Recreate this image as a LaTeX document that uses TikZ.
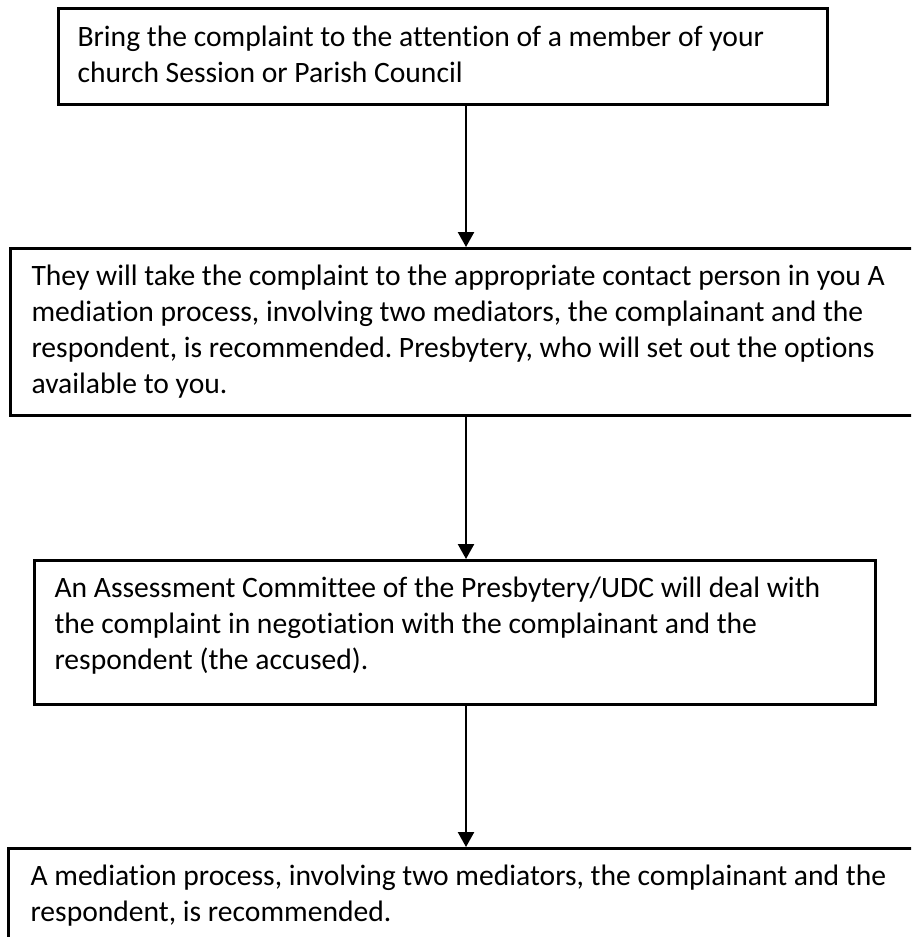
\documentclass[tikz,border=0pt]{standalone}
\usepackage{fontspec}
\setmainfont{Carlito}[Ligatures=NoCommon]
\usetikzlibrary{arrows.meta}
\frenchspacing
\begin{document}
\begin{tikzpicture}[x=0.36pt,y=-0.36pt,
  box/.style={draw=black, line width=1pt, inner sep=0pt, anchor=north west},
  txt/.style={anchor=north west, inner sep=0pt, align=left,
    font=\fontsize{10.65pt}{12.96pt}\selectfont},
  conn/.style={line width=0.75pt, -{Triangle[length=5.4pt,width=5.8pt]}}]
\useasboundingbox (0,0) rectangle (911,937);
\clip (0,0) rectangle (911,937);
\fill[white] (0,0) rectangle (911,937);
% boxes
\node[box, minimum width=276.84pt, minimum height=34.56pt] (b1) at (57,7) {};
\node[box, minimum width=335.16pt, minimum height=60.12pt] (b2) at (9,247) {};
\node[box, minimum width=302.76pt, minimum height=51.84pt] (b3) at (33,559) {};
\node[box, minimum width=335.88pt, minimum height=55.08pt] (b4) at (7,847) {};
% texts
\node[txt] (t1) at (77,21) {\strut Bring the complaint to the attention of a member of your\\church Session or Parish Council};
\node[txt] (t2) at (31,260) {\strut They will take the complaint to the appropriate contact person in you A\\mediation process, involving two mediators, the complainant and the\\respondent, is recommended. Presbytery, who will set out the options\\available to you.};
\node[txt] (t3) at (54,572) {\strut An Assessment Committee of the Presbytery/UDC will deal with\\the complaint in negotiation with the complainant and the\\respondent (the accused).};
\node[txt] (t4) at (30,860) {\strut A mediation process, involving two mediators, the complainant and the\\respondent, is recommended.};
% connectors
\coordinate (ax) at (466,0);
\draw[conn] (b1.south -| ax) -- (b2.north -| ax);
\draw[conn] (b2.south -| ax) -- (b3.north -| ax);
\draw[conn] (b3.south -| ax) -- (b4.north -| ax);
\end{tikzpicture}
\end{document}
